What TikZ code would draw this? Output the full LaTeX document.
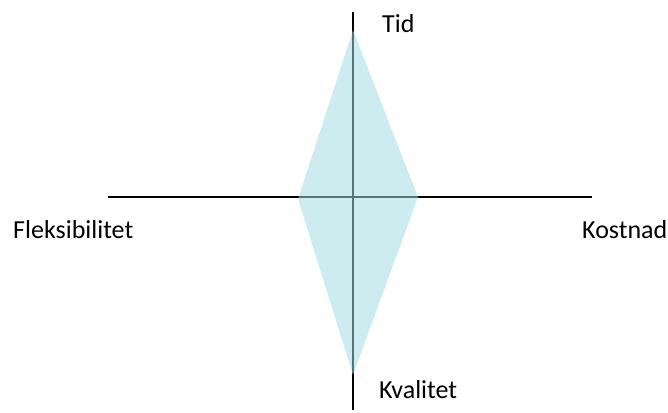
\documentclass[tikz,border=0pt]{standalone}
\usepackage{fontspec}
\setmainfont{Carlito}
\definecolor{diamondfill}{RGB}{160,220,226}
\tikzset{
  axis/.style={line width=2.5pt, black},
  lbl/.style={anchor=base west, inner sep=0pt, font=\fontsize{26}{30}\selectfont},
  diamondshape/.style={fill=diamondfill, fill opacity=0.53, draw=none}
}
\begin{document}
\begin{tikzpicture}[x=1pt,y=-1pt]
\useasboundingbox (0,0) rectangle (668,412);
\coordinate (vt) at (353,12);
\coordinate (vb) at (353,410);
\coordinate (hl) at (108,197);
\coordinate (hr) at (592,197);
\draw[axis] (vt) -- (vb);
\draw[axis] (hl) -- (hr);
\coordinate (dt) at (353,30);
\coordinate (dr) at (418,197);
\coordinate (db) at (353,375);
\coordinate (dl) at (298,199);
\fill[diamondshape] (dt) -- (dr) -- (db) -- (dl) -- cycle;
\node[lbl] (tid) at (382,33) {Tid};
\node[lbl] (flex) at (13,238) {Fleksibilitet};
\node[lbl] (kost) at (582,238) {Kostnad};
\node[lbl] (kval) at (379,398) {Kvalitet};
\end{tikzpicture}
\end{document}
